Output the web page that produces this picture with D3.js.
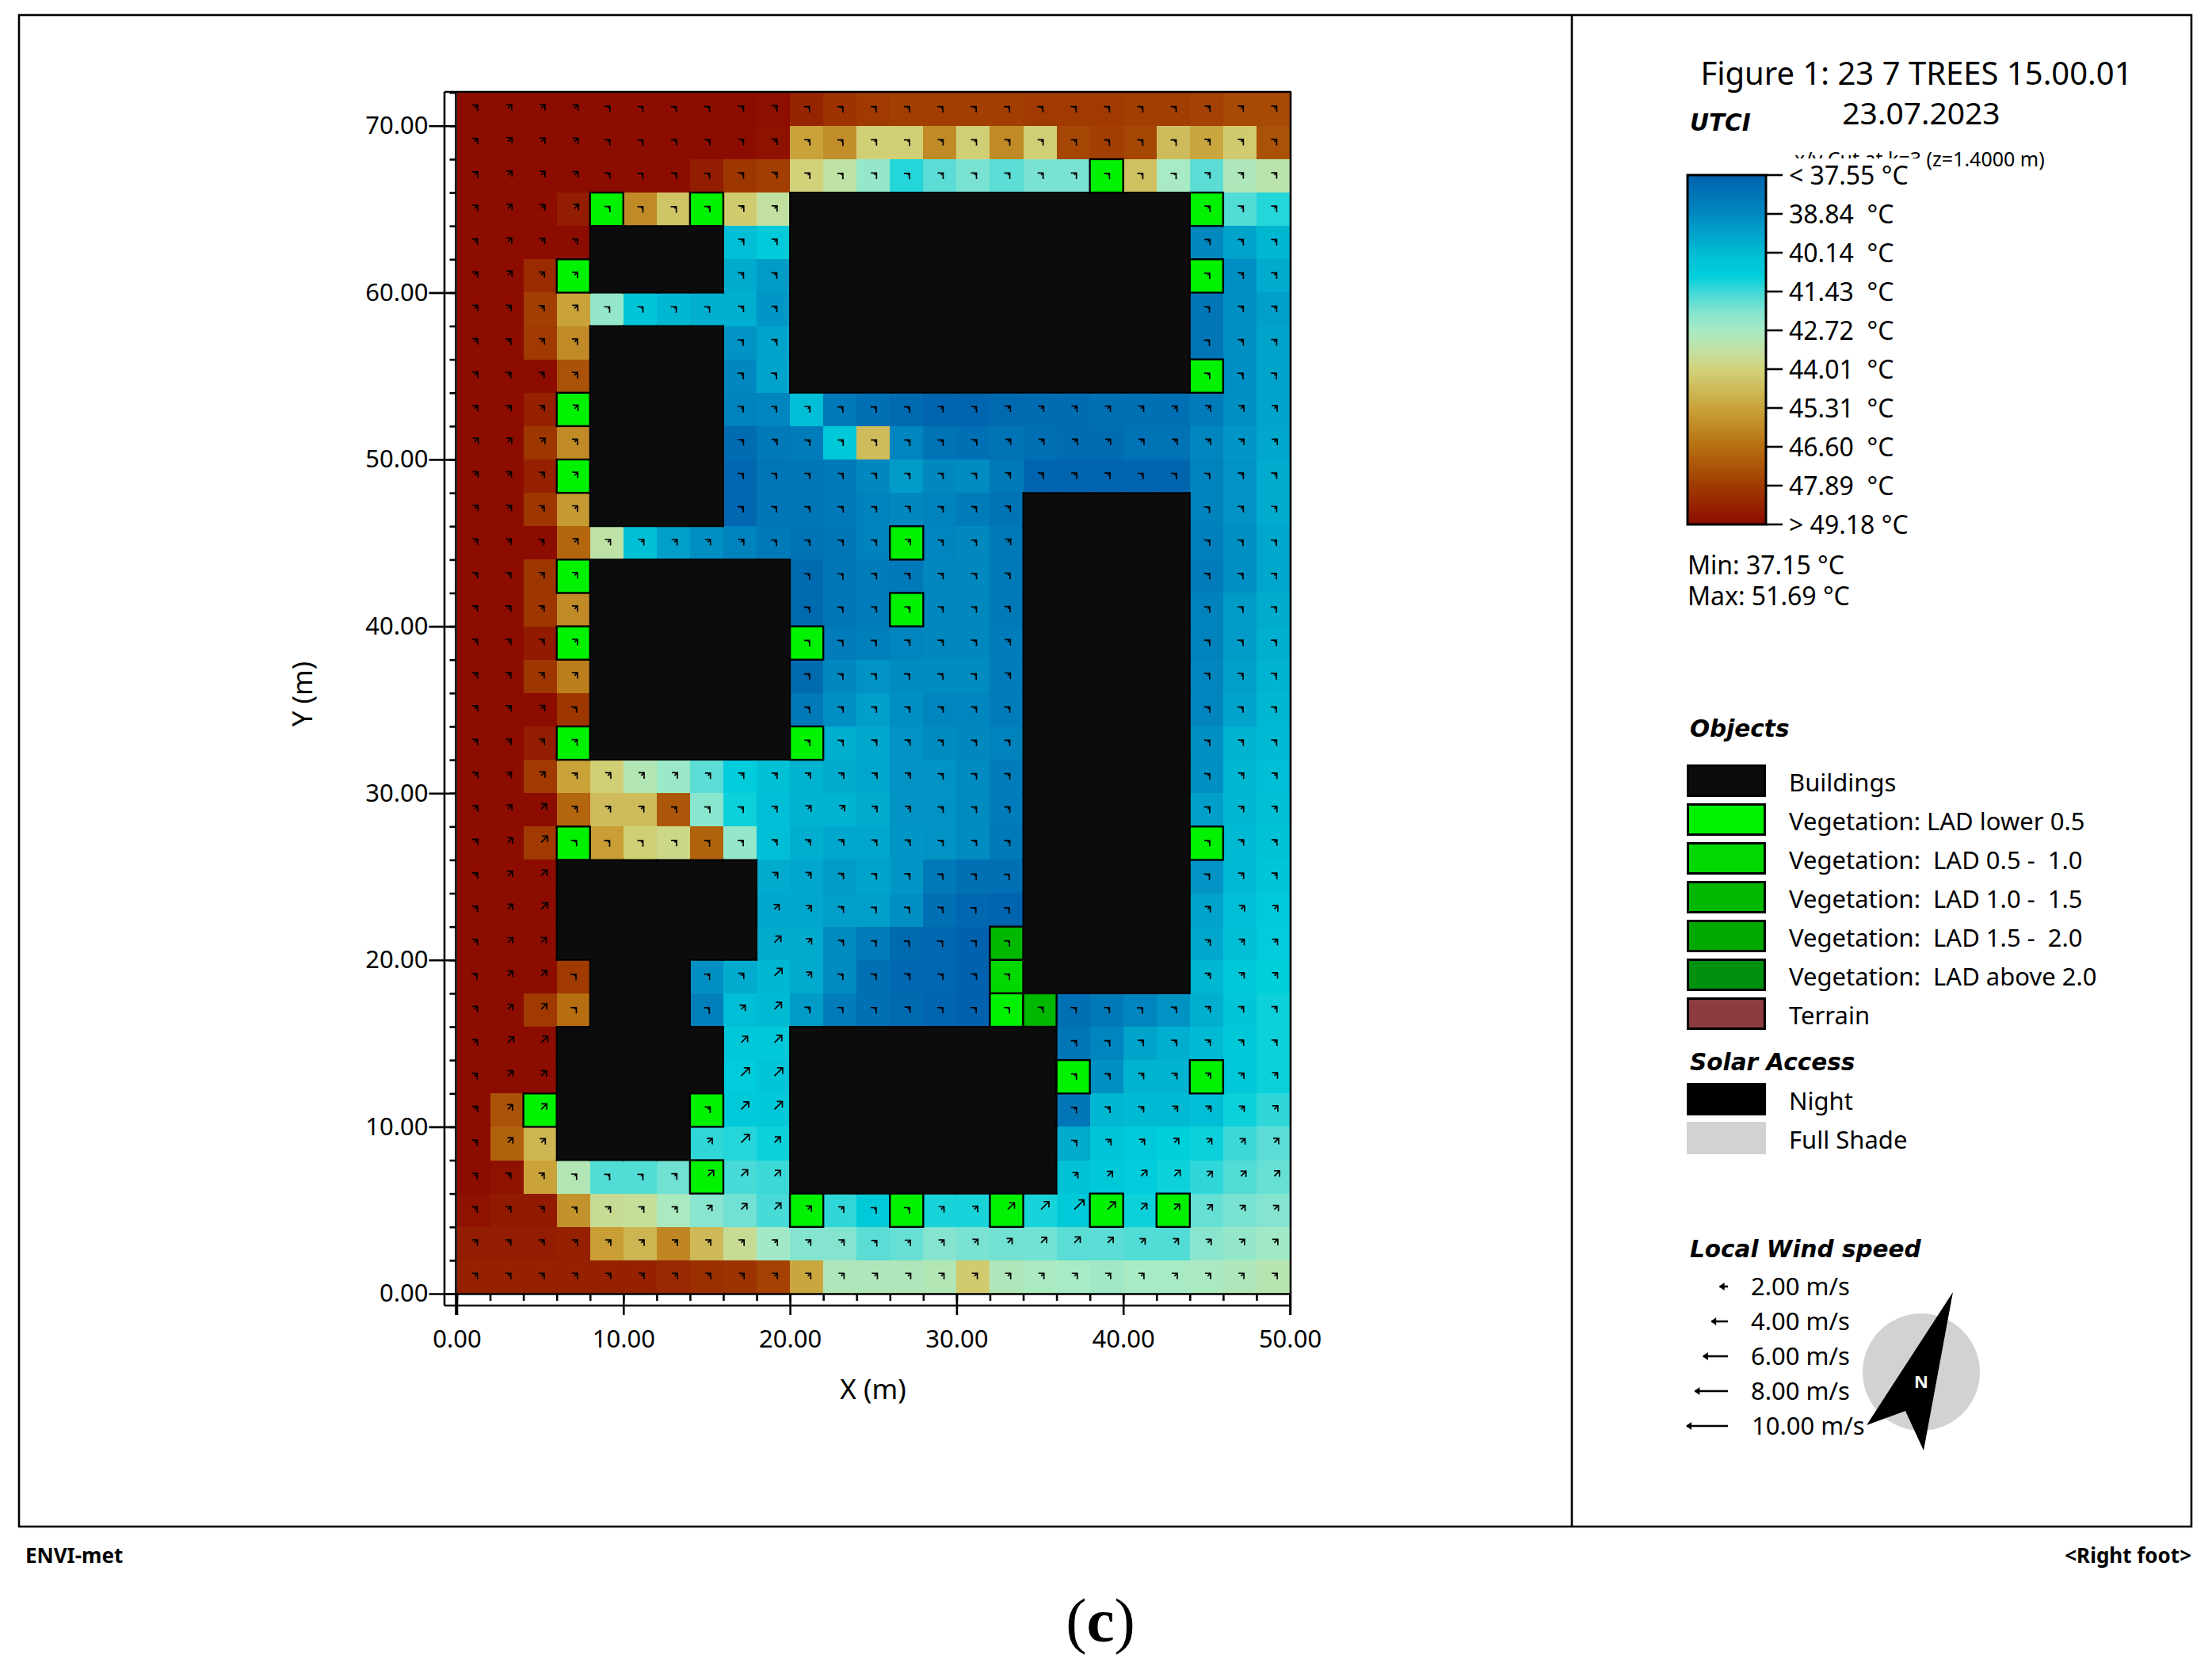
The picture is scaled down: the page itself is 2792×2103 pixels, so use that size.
<!DOCTYPE html>
<html>
<head>
<meta charset="utf-8">
<script src="https://cdn.jsdelivr.net/npm/d3@7"></script>
<style>
  html, body { margin: 0; padding: 0; background: #fff; }
  svg { display: block; }
  text { font-family: "Noto Sans", sans-serif; fill: #000; white-space: pre; }
  .head { font-family: "DejaVu Sans", sans-serif; font-weight: bold; font-style: italic; font-size: 29.5px; }
</style>
</head>
<body>
<div id="chart"></div>
<script>
const _ = null;

// UTCI in degC per cell, top row (y = 70-72 m) first, null where a building or tree hides it
const utciRows = [
  [49.5,50,50,50,50,50,50,50,49.7,49.1,48.5,48.1,47.9,47.8,47.8,47.8,47.8,47.9,47.9,47.9,47.8,47.8,47.7,47.5,47.5],
  [50,50,50,50,50,50,50,50,50,49,45.3,45.8,44.1,44.1,45.9,44.1,45.9,44.1,47.6,47.8,47.6,44.6,45.2,44.2,47.3],
  [49.6,50,50,50,50,50,49.5,48.7,48,47.8,44,43.3,42.4,41.2,41.7,42,41.7,42,42,_,44.5,42.7,41.7,42.9,43.2],
  [50,50,50,48.7,_,45.9,44.4,_,44.2,43.4,_,_,_,_,_,_,_,_,_,_,_,_,_,41.6,41.2],
  [50,50,50,49.3,_,_,_,_,40.2,40.7,_,_,_,_,_,_,_,_,_,_,_,_,38.8,39.5,40],
  [50,50,48.3,_,_,_,_,_,39.7,39.3,_,_,_,_,_,_,_,_,_,_,_,_,_,39,39.7],
  [50,50,47.8,45.3,42.4,40.5,40,39.8,39.8,39.2,_,_,_,_,_,_,_,_,_,_,_,_,38.2,39,39.4],
  [50,50,47.9,45.9,_,_,_,_,39.1,39.5,_,_,_,_,_,_,_,_,_,_,_,_,38.2,39,39.5],
  [50,50,50,47.3,_,_,_,_,38.8,39.5,_,_,_,_,_,_,_,_,_,_,_,_,_,39,39.5],
  [50,50,48.6,_,_,_,_,_,38.6,38.7,40.2,38.3,38,37.8,37.6,37.6,37.8,37.9,37.9,38,38,38,38.4,39,39.5],
  [50,50,48,45.9,_,_,_,_,37.9,38.3,38.4,40.6,44.6,38.7,38.1,38,38.1,38,37.9,37.9,38.1,38.1,38.7,39.2,39.6],
  [50,50,48.6,_,_,_,_,_,37.7,38.2,38.2,38.3,38.8,39.3,38.8,38.9,38.3,37.6,37.6,37.6,37.6,37.6,38.6,39.1,39.7],
  [50,50,48,45.5,_,_,_,_,37.7,38.2,38.2,38.3,38.6,38.8,38.6,38.4,38.1,_,_,_,_,_,38.6,39.1,39.7],
  [50,50,50,46.8,43.3,40.3,39.4,39,38.6,38.3,38.1,38.2,38.6,_,38.7,38.8,38.3,_,_,_,_,_,38.5,39,39.6],
  [50,50,48,_,_,_,_,_,_,_,37.8,38.2,38.4,38.3,38.8,38.8,38.3,_,_,_,_,_,38.4,39,39.6],
  [50,50,48,45.9,_,_,_,_,_,_,37.8,38.2,38.4,_,38.8,38.8,38.3,_,_,_,_,_,38.6,39.3,39.7],
  [50,50,48.8,_,_,_,_,_,_,_,_,38.4,38.5,38.7,38.8,38.8,38.4,_,_,_,_,_,38.6,39.3,39.8],
  [50,50,48,46.2,_,_,_,_,_,_,37.8,38.8,39.1,38.9,38.9,38.9,38.4,_,_,_,_,_,38.7,39.4,39.9],
  [50,50,50,48,_,_,_,_,_,_,38.3,39,39.4,39,38.7,38.7,38.4,_,_,_,_,_,38.7,39.5,40],
  [50,50,48.7,_,_,_,_,_,_,_,_,39.8,39.6,39.1,38.9,38.8,38.6,_,_,_,_,_,39,39.9,40.1],
  [50,50,47.9,45.3,44.1,43,42.5,41.7,40.8,40.3,39.9,39.7,39.6,39.1,39.1,38.9,38.4,_,_,_,_,_,39,40,40.2],
  [50,50,50,46.8,44.6,44.6,47.2,42.2,41,40.2,39.9,39.9,39.7,39.1,39.1,38.9,38.4,_,_,_,_,_,39.4,40,40.3],
  [50,50,47.9,_,45.4,44.1,43.8,46.9,42.4,40.2,39.8,39.6,39.6,39.2,39.1,38.9,38.3,_,_,_,_,_,_,40.1,40.4],
  [50,50,49.2,_,_,_,_,_,_,39.7,39.6,39.3,39.5,39.2,38.3,38,38,_,_,_,_,_,39.1,40.1,40.5],
  [50,50,50,_,_,_,_,_,_,39.6,39.6,39.4,39.4,39,38,37.7,37.6,_,_,_,_,_,39.5,40.2,40.7],
  [50,50,50,_,_,_,_,_,_,39.7,39.7,38.9,38.4,37.8,37.7,37.5,_,_,_,_,_,_,39.6,40.3,40.8],
  [50,50,50,47.9,_,_,_,39.0,39.7,40,39.7,38.9,38,37.7,37.7,37.4,_,_,_,_,_,_,40,40.6,40.9],
  [50,50,47.9,46.6,_,_,_,38.5,40.2,40.1,39.3,38.4,38,37.8,37.6,37.5,_,_,38,38.3,38.7,39.1,39.8,40.5,41],
  [50,50,50,_,_,_,_,_,40.6,40.6,_,_,_,_,_,_,_,_,38.2,38.7,39.5,39.8,40.1,40.6,41],
  [50,50,50,_,_,_,_,_,40.8,40.5,_,_,_,_,_,_,_,_,_,39,39.9,39.9,_,40.6,41],
  [50,47.3,_,_,_,_,_,_,40.7,40.6,_,_,_,_,_,_,_,_,38.2,40,40.1,40.1,40.2,41,41.3],
  [50,46.9,44.8,_,_,_,_,41.3,41.2,41,_,_,_,_,_,_,_,_,39.7,40.5,40.7,40.9,41,41.4,41.7],
  [49.8,49,45.3,43,41.6,41.6,41.9,_,41.5,41.4,_,_,_,_,_,_,_,_,40.4,40.6,40.8,41,41.3,41.6,41.8],
  [49,48.8,48.8,45.7,43.6,43.5,42.8,42.2,41.9,41.5,_,41.3,40.7,_,41.1,41.1,_,41.1,40.7,_,41,_,41.8,42,42.1],
  [48.7,48.7,48.7,48.6,45.4,44.8,46,44.7,43.6,42.6,42.1,42.1,41.7,41.8,42.1,42,41.9,41.9,41.7,41.7,41.6,41.6,42.2,42.4,42.6],
  [48.6,48.6,48.6,48.6,48.6,48.6,48.4,48.2,48.1,47.7,45.2,42.9,42.9,42.9,43,44.2,42.9,42.8,42.7,42.6,42.7,42.7,42.8,42.9,43.1]
];

// '.' air, B building, 1-3 vegetation class
const objectRows = [
  ".........................",
  ".........................",
  "...................1.....",
  "....1..1..BBBBBBBBBBBB1..",
  "....BBBB..BBBBBBBBBBBB...",
  "...1BBBB..BBBBBBBBBBBB1..",
  "..........BBBBBBBBBBBB...",
  "....BBBB..BBBBBBBBBBBB...",
  "....BBBB..BBBBBBBBBBBB1..",
  "...1BBBB.................",
  "....BBBB.................",
  "...1BBBB.................",
  "....BBBB.........BBBBB...",
  ".............1...BBBBB...",
  "...1BBBBBB.......BBBBB...",
  "....BBBBBB...1...BBBBB...",
  "...1BBBBBB1......BBBBB...",
  "....BBBBBB.......BBBBB...",
  "....BBBBBB.......BBBBB...",
  "...1BBBBBB1......BBBBB...",
  ".................BBBBB...",
  ".................BBBBB...",
  "...1.............BBBBB1..",
  "...BBBBBB........BBBBB...",
  "...BBBBBB........BBBBB...",
  "...BBBBBB.......3BBBBB...",
  "....BBB.........2BBBBB...",
  "....BBB.........13.......",
  "...BBBBB..BBBBBBBB.......",
  "...BBBBB..BBBBBBBB1...1..",
  "..1BBBB1..BBBBBBBB.......",
  "...BBBB...BBBBBBBB.......",
  ".......1..BBBBBBBB.......",
  "..........1..1..1..1.1...",
  ".........................",
  "........................."
];

// local wind speed in m/s per cell, same order, all blowing to the north east
const windRows = [
  [1.1,1.3,1.3,1.2,.7,.6,.6,.6,.8,.9,.6,.6,.6,.6,.6,.6,.6,.6,.6,.6,.6,.6,.8,.8,.8],
  [1.1,1.4,1.3,1.2,.7,.6,.7,.7,.8,.9,.7,.6,.7,.6,.7,.7,.7,.7,.7,.6,.6,.6,.8,.8,.8],
  [1.1,1.4,1.3,1.2,.7,.6,.7,.6,.8,.9,.7,.6,.7,.6,.7,.7,.7,.7,.7,.6,.6,.6,.8,.8,.8],
  [1.1,1.4,1.3,1.4,.7,.6,.6,.7,.9,.9,_,_,_,_,_,_,_,_,_,_,_,_,.8,.8,.8],
  [1,1.3,1.2,1,_,_,_,_,.9,.9,_,_,_,_,_,_,_,_,_,_,_,_,.8,.8,.8],
  [1.1,1.4,1.1,1,_,_,_,_,.8,.8,_,_,_,_,_,_,_,_,_,_,_,_,.7,.8,.8],
  [1.1,1.1,1,1.1,.6,.6,.6,.6,.8,.8,_,_,_,_,_,_,_,_,_,_,_,_,.6,.8,.8],
  [1.1,1,1.1,1,_,_,_,_,.7,.8,_,_,_,_,_,_,_,_,_,_,_,_,.6,.8,.8],
  [1.1,1,1,1,_,_,_,_,.7,.7,_,_,_,_,_,_,_,_,_,_,_,_,.7,.7,.7],
  [1.1,1.1,1.1,1.2,_,_,_,_,.7,.7,.7,.6,.6,.6,.7,.7,.9,.9,.9,.9,.9,.9,1,1,1],
  [1.3,1.3,1.3,1,_,_,_,_,.8,.9,.7,.7,.7,.7,.7,.8,1,1,1,1,1,1,1,1,1],
  [1.2,1.2,1.1,1.1,_,_,_,_,.7,.7,.7,.7,.7,.7,.7,.7,.9,.8,.8,.8,.7,.7,.7,.8,.8],
  [1.2,1.2,1,1,_,_,_,_,.7,.7,.7,.7,.7,.8,.7,.7,.9,_,_,_,_,_,.6,.8,.8],
  [1.1,1.1,.9,1.2,.9,.9,.9,.9,.9,.7,.7,.7,.7,.9,.7,.7,1,_,_,_,_,_,.7,.7,.7],
  [1,1,1,1,_,_,_,_,_,_,.6,.6,.7,.7,.7,.7,.8,_,_,_,_,_,.7,.7,.7],
  [1,1,1,1,_,_,_,_,_,_,.6,.6,.7,.7,.7,.7,.8,_,_,_,_,_,.7,.7,.7],
  [1,1,1,1,_,_,_,_,_,_,.6,.6,.6,.7,.7,.7,.9,_,_,_,_,_,.7,.7,.7],
  [1,1,1,1,_,_,_,_,_,_,.6,.6,.6,.6,.6,.6,.9,_,_,_,_,_,.7,.7,.7],
  [1.1,1.1,1.2,.7,_,_,_,_,_,_,.6,.7,.7,.7,.7,.7,.7,_,_,_,_,_,.7,.7,.7],
  [1,1.1,1.1,.9,_,_,_,_,_,_,.7,.7,.8,.8,.7,.7,.7,_,_,_,_,_,.7,.8,.8],
  [1.1,1.2,1.3,.9,1,1,1,.9,.9,.9,.9,.9,.9,.9,.7,.7,.7,_,_,_,_,_,.7,.9,.9],
  [1.1,1.4,1.8,.9,.9,.9,.7,.7,.7,.9,1.1,1.2,.9,.9,.7,.7,.7,_,_,_,_,_,.7,.9,.9],
  [1.1,1.6,2.2,.7,.6,.6,.7,.6,.7,.9,.9,.9,.8,.8,.7,.7,.7,_,_,_,_,_,.7,.9,.9],
  [1,1.6,2,_,_,_,_,_,_,1.1,1.1,.8,.7,.7,.6,.6,.5,_,_,_,_,_,.6,.9,.9],
  [1,1.7,2.2,_,_,_,_,_,_,1.6,1.2,.8,.6,.6,.6,.5,.5,_,_,_,_,_,.9,1.2,1.2],
  [1,1.7,1.7,_,_,_,_,_,_,2.2,1.3,.8,.6,.5,.5,.6,.6,_,_,_,_,_,.9,1.1,1.1],
  [.8,1.7,1.9,.5,_,_,_,.6,.9,2.6,1.3,.6,.6,.7,.6,.7,.6,_,_,_,_,_,.9,1.1,1.1],
  [1,1.7,1.9,.6,_,_,_,.5,1.4,2.4,.7,.6,.6,.8,.6,.6,.6,.7,.6,.6,.5,.7,.9,.9,.9],
  [1,2,2.2,_,_,_,_,_,2.2,2.5,_,_,_,_,_,_,_,_,.7,.7,.8,.8,.9,.9,.9],
  [.9,1.8,1.8,_,_,_,_,_,2.8,2.8,_,_,_,_,_,_,_,_,.7,.8,.9,.9,1,1,1.1],
  [1,1.6,1.9,_,_,_,_,.8,2.6,2.7,_,_,_,_,_,_,_,_,.7,.8,.9,1.1,1.1,1.1,1.2],
  [.9,1.7,1.4,_,_,_,_,1.5,2.8,2,_,_,_,_,_,_,_,_,.8,1.1,1.2,1.5,1.4,1.4,1.5],
  [.9,1,1,.7,.6,.6,.8,2,2.2,2,_,_,_,_,_,_,_,_,1.2,1.6,2,2,1.6,1.7,1.8],
  [.9,1,1,.8,.9,.9,.9,1.4,2,2.2,1.2,.9,.6,.6,1,1.1,2.3,2.7,3.3,2.6,2,1.8,1.6,1.4,1.4],
  [1,1,1,1,1,1,1,1,1,1,1,1,.8,.9,1,1.2,1.5,1.9,2,1.9,1.4,1.4,1.2,1.2,1.2],
  [1,1,1,1,1,1,1,1,1,1,1,1,1,1,1,1,1,1,1,1,1,1,1,1,1]
];

// colour bar, blue end first
const utciStops = [37.55, 38.84, 40.14, 40.9, 41.43, 42.1, 42.72, 43.4, 44.01, 45.31, 46.6, 47.89, 49.18];
const utciColors = ["#0062ae", "#0089c0", "#00bcd4", "#00cfdc", "#40d9d8", "#84e4d0", "#a8eac4", "#c2e0a0",
  "#d2d27a", "#c9a238", "#b66e10", "#a03a00", "#8c0c00"];
const legendTicks = ["< 37.55 °C", "38.84  °C", "40.14  °C", "41.43  °C", "42.72  °C", "44.01  °C",
  "45.31  °C", "46.60  °C", "47.89  °C", "> 49.18 °C"];

const objectLegend = [
  ["Buildings", "#0c0c0c"],
  ["Vegetation: LAD lower 0.5", "#00f200"],
  ["Vegetation:  LAD 0.5 -  1.0", "#00d800"],
  ["Vegetation:  LAD 1.0 -  1.5", "#00b800"],
  ["Vegetation:  LAD 1.5 -  2.0", "#00a800"],
  ["Vegetation:  LAD above 2.0", "#009010"],
  ["Terrain", "#8c3c40"]
];
const solarLegend = [["Night", "#000000"], ["Full Shade", "#d2d2d2"]];
const windLegend = [2, 4, 6, 8, 10];
const vegColors = {"1": "#00f200", "2": "#00d800", "3": "#00b800"};

const WIDTH = 2792, HEIGHT = 2103;
const PLOT = {left: 576.5, right: 1628, top: 116.7, bottom: 1633};
const DX = 2, MAX_X = 50, MAX_Y = 72;

const svg = d3.select("#chart").append("svg")
    .attr("width", WIDTH)
    .attr("height", HEIGHT);

const x = d3.scaleLinear().domain([0, MAX_X]).range([PLOT.left, PLOT.right]);
const y = d3.scaleLinear().domain([0, MAX_Y]).range([PLOT.bottom, PLOT.top]);
const color = d3.scaleLinear().domain(utciStops).range(utciColors).clamp(true);
const windLen = d3.scaleLinear().domain([0, 10]).range([0, 52]);

function frameLine(g, x1, y1, x2, y2, w) {
    g.append("line").attr("x1", x1).attr("y1", y1).attr("x2", x2).attr("y2", y2)
        .attr("stroke", "#000").attr("stroke-width", w || 2.6);
}

// page frames
const frame = svg.append("g");
frame.append("rect").attr("x", 24).attr("y", 19).attr("width", 2742).attr("height", 1908)
    .attr("fill", "none").attr("stroke", "#000").attr("stroke-width", 2.6);
frameLine(frame, 1984, 19, 1984, 1927);

// cells
const cells = [];
utciRows.forEach((row, r) => row.forEach((v, c) => {
    cells.push({r, c, v, kind: objectRows[r][c], wind: windRows[r][c]});
}));
const cellX = d => x(d.c * DX);
const cellY = d => y(MAX_Y - d.r * DX);
const cellW = x(DX) - x(0);
const cellH = y(0) - y(DX);

const isBuilding = (r, c) => r >= 0 && r < objectRows.length && objectRows[r][c] === "B";

svg.append("g").attr("shape-rendering", "crispEdges")
    .selectAll("rect")
    .data(cells.filter(d => d.kind === "." || d.kind === "B"))
    .join("rect")
    .attr("x", cellX).attr("y", cellY)
    .attr("width", cellW + 0.6).attr("height", cellH + 0.6)
    .attr("fill", d => d.kind === "B" ? "#0c0c0c" : color(d.v));

// building outlines, only where the neighbour is not a building
const edges = [];
cells.filter(d => d.kind === "B").forEach(d => {
    const x0 = cellX(d), y0 = cellY(d), x1 = x0 + cellW, y1 = y0 + cellH;
    if (!isBuilding(d.r - 1, d.c)) edges.push([x0, y0, x1, y0]);
    if (!isBuilding(d.r + 1, d.c)) edges.push([x0, y1, x1, y1]);
    if (!isBuilding(d.r, d.c - 1)) edges.push([x0, y0, x0, y1]);
    if (!isBuilding(d.r, d.c + 1)) edges.push([x1, y0, x1, y1]);
});
svg.append("g").attr("stroke", "#000").attr("stroke-width", 2).attr("stroke-linecap", "square")
    .selectAll("line")
    .data(edges)
    .join("line")
    .attr("x1", d => d[0]).attr("y1", d => d[1]).attr("x2", d => d[2]).attr("y2", d => d[3]);

svg.append("g")
    .selectAll("rect")
    .data(cells.filter(d => vegColors[d.kind]))
    .join("rect")
    .attr("x", cellX).attr("y", cellY)
    .attr("width", cellW).attr("height", cellH)
    .attr("fill", d => vegColors[d.kind])
    .attr("stroke", "#000").attr("stroke-width", 2.4);

// wind arrows: tail near the cell centre, two fixed barbs at the tip
function windPath(d) {
    const len = windLen(d.wind);
    const tx = cellX(d) + cellW / 2 + 1.5, ty = cellY(d) + cellH / 2 - 1;
    const hx = tx + len * Math.SQRT1_2, hy = ty - len * Math.SQRT1_2;
    return `M${tx},${ty}L${hx},${hy}M${hx - 7},${hy}L${hx},${hy}L${hx},${hy + 7.5}`;
}
svg.append("g").attr("fill", "none").attr("stroke", "#000").attr("stroke-width", 1.7)
    .selectAll("path")
    .data(cells.filter(d => d.kind !== "B"))
    .join("path")
    .attr("d", windPath);

// axes
const xMinor = d3.range(0, MAX_X + 1, DX);
const xMajor = d3.range(0, MAX_X + 1, 10);
const yMinor = d3.range(0, MAX_Y + 1, DX);
const yMajor = d3.range(0, MAX_Y, 10);
const fmt = d3.format(".2f");

function styleAxis(g) {
    g.select(".domain").remove();
    g.selectAll("line").attr("stroke", "#000").attr("stroke-width", 2.6);
    g.selectAll("text").attr("font-size", 31).attr("font-family", '"Noto Sans", sans-serif');
}

svg.append("g").attr("transform", `translate(0,${PLOT.bottom})`)
    .call(d3.axisBottom(x).tickValues(xMinor).tickSize(9).tickFormat(""))
    .call(styleAxis);
svg.append("g").attr("transform", `translate(0,${PLOT.bottom})`)
    .call(d3.axisBottom(x).tickValues(xMajor).tickSize(27).tickPadding(19).tickFormat(fmt))
    .call(styleAxis);
svg.append("g").attr("transform", `translate(${PLOT.left - 1},0)`)
    .call(d3.axisLeft(y).tickValues(yMinor).tickSize(8).tickFormat(""))
    .call(styleAxis);
svg.append("g").attr("transform", `translate(${PLOT.left - 1},0)`)
    .call(d3.axisLeft(y).tickValues(yMajor).tickSize(34).tickPadding(1).tickFormat(fmt))
    .call(styleAxis);

// axis box around the grid
const box = svg.append("g");
frameLine(box, 561, 116, 1630, 116);
frameLine(box, 561, 116, 561, 1648);
frameLine(box, 561, 1648, 1630, 1648);
frameLine(box, 1629, 116, 1629, 1660);
frameLine(box, 575.5, 116, 575.5, 1660);
frameLine(box, 561, 1633.5, 1630, 1633.5);

svg.append("text").attr("x", 1102).attr("y", 1766).attr("text-anchor", "middle")
    .attr("font-size", 35).text("X (m)");
svg.append("text").attr("transform", "translate(394,876) rotate(-90)").attr("text-anchor", "middle")
    .attr("font-size", 35).text("Y (m)");

// right panel, title
svg.append("text").attr("x", 2419).attr("y", 107).attr("text-anchor", "middle")
    .attr("font-size", 40).text("Figure 1: 23 7 TREES 15.00.01");
svg.append("text").attr("x", 2425).attr("y", 157).attr("text-anchor", "middle")
    .attr("font-size", 39).text("23.07.2023");
svg.append("text").attr("class", "head").attr("x", 2133).attr("y", 165).text("UTCI");

svg.append("text").attr("x", 2265).attr("y", 210).attr("font-size", 25)
    .attr("font-family", '"DejaVu Sans", sans-serif').text("x/y Cut at k=3 (z=1.4000 m)");

// colour bar
const BAR = {x: 2130, w: 99, top: 221, bottom: 662};
const barPos = d3.scaleLinear().domain([0, legendTicks.length - 1]).range([BAR.top, BAR.bottom]);
const barValue = d3.scaleLinear().domain([BAR.top, BAR.bottom]).range([37.55, 49.18]);
svg.append("g").attr("shape-rendering", "crispEdges")
    .selectAll("rect")
    .data(d3.range(BAR.top, BAR.bottom))
    .join("rect")
    .attr("x", BAR.x).attr("y", d => d).attr("width", BAR.w).attr("height", 1.2)
    .attr("fill", d => color(barValue(d)));
svg.append("rect").attr("x", BAR.x).attr("y", BAR.top).attr("width", BAR.w)
    .attr("height", BAR.bottom - BAR.top)
    .attr("fill", "none").attr("stroke", "#000").attr("stroke-width", 3);

const barTick = svg.append("g").selectAll("g").data(legendTicks).join("g")
    .attr("transform", (d, i) => `translate(${BAR.x + BAR.w},${barPos(i)})`);
barTick.append("line").attr("x2", 21).attr("stroke", "#000").attr("stroke-width", 2.6);
// the label box hides the lower half of the cut text behind the first tick
barTick.filter((d, i) => i === 0).append("rect")
    .attr("x", 29).attr("y", -21).attr("width", 168).attr("height", 40).attr("fill", "#fff");
barTick.append("text").attr("x", 29).attr("dy", "0.38em").attr("font-size", 32).text(d => d);

svg.append("text").attr("x", 2130).attr("y", 725).attr("font-size", 32).text("Min: 37.15 °C");
svg.append("text").attr("x", 2130).attr("y", 764).attr("font-size", 32).text("Max: 51.69 °C");

// objects legend
svg.append("text").attr("class", "head").attr("x", 2133).attr("y", 930).text("Objects");
const ROW = 49;
function legendRows(items, top, stroked) {
    const g = svg.append("g").selectAll("g").data(items).join("g")
        .attr("transform", (d, i) => `translate(2129,${top + i * ROW})`);
    g.append("rect").attr("x", 1.5).attr("y", 1.5).attr("width", 97).attr("height", 38)
        .attr("fill", d => d[1])
        .attr("stroke", stroked ? "#000" : d => d[1]).attr("stroke-width", 3);
    g.append("text").attr("x", 129).attr("y", 33.5).attr("font-size", 31).text(d => d[0]);
}
legendRows(objectLegend, 965, true);

svg.append("text").attr("class", "head").attr("x", 2133).attr("y", 1351).text("Solar Access");
legendRows(solarLegend, 1367, false);

// wind legend
svg.append("text").attr("class", "head").attr("x", 2133).attr("y", 1587).text("Local Wind speed");
const windRow = svg.append("g").selectAll("g").data(windLegend).join("g")
    .attr("transform", (d, i) => `translate(2181,${1624 + i * 44})`);
windRow.append("path")
    .attr("d", d => `M0,0L${-windLen(d)},0`)
    .attr("stroke", "#000").attr("stroke-width", 2.6);
windRow.append("path")
    .attr("d", d => `M${-windLen(d) - 1},0L${-windLen(d) + 6},-5L${-windLen(d) + 6},5Z`)
    .attr("fill", "#000");
windRow.append("text").attr("x", d => d === 10 ? 30 : 29).attr("dy", "0.36em").attr("font-size", 31)
    .text(d => d3.format(".2f")(d) + " m/s");

// north arrow
svg.append("circle").attr("cx", 2425).attr("cy", 1732).attr("r", 74).attr("fill", "#d2d2d2");
svg.append("path").attr("d", "M2465,1631L2428,1831L2405,1781L2356,1799Z").attr("fill", "#000");
svg.append("text").attr("x", 2425).attr("y", 1752).attr("text-anchor", "middle")
    .attr("font-size", 22).attr("font-weight", "bold").style("fill", "#fff").text("N");

// footer
svg.append("text").attr("x", 32).attr("y", 1973).attr("font-size", 26).attr("font-weight", "bold").text("ENVI-met");
svg.append("text").attr("x", 2766).attr("y", 1973).attr("text-anchor", "end")
    .attr("font-size", 26).attr("font-weight", "bold").text("<Right foot>");
const tag = svg.append("text").attr("x", 1389).attr("y", 2072).attr("text-anchor", "middle")
    .attr("font-size", 79).style("font-family", '"Liberation Serif", serif');
tag.append("tspan").text("(");
tag.append("tspan").attr("font-weight", "bold").text("c");
tag.append("tspan").text(")");
</script>
</body>
</html>
